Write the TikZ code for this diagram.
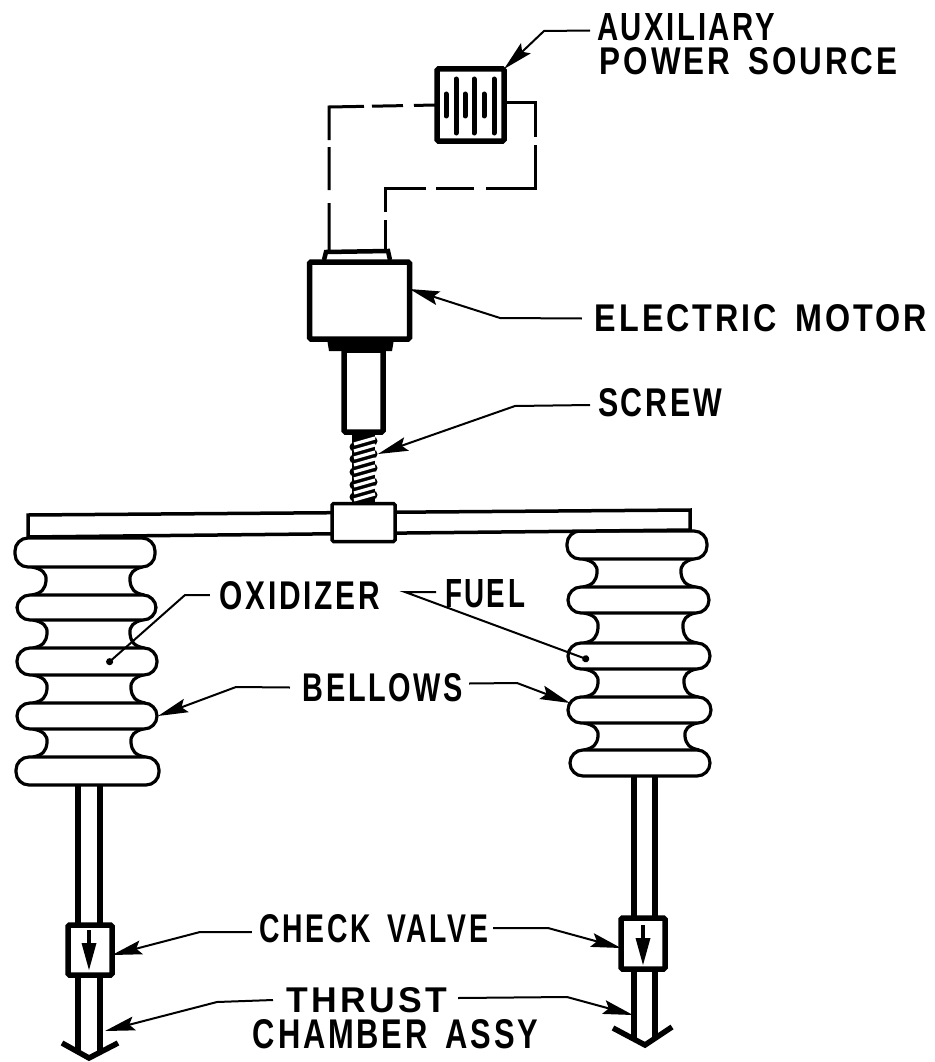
\documentclass[tikz,border=0pt]{standalone}
\usepackage{graphicx}
\usepackage{fontspec}
\setmainfont{Liberation Sans}[LetterSpace=9,WordSpace=1.6]
\usetikzlibrary{arrows.meta}
\tikzset{
  part/.style={draw=black,fill=white,line width=5.5pt,inner sep=0pt,outer sep=0pt,rounded corners=1.5pt},
  wire/.style={draw=black,line width=3pt},
  bl/.style={draw=black,line width=3.2pt},
  lbl/.style={inner sep=0pt,outer sep=0pt,font=\bfseries},
  lead/.style={draw=black,line width=2pt,-{Stealth[length=30pt,width=14pt,inset=5pt]}},
  leaddot/.style={draw=black,line width=2pt,-{Circle[length=7pt]}},
  pipe/.style={draw=black,line width=5.5pt},
  head/.style={draw=black,line width=5.5pt,line join=miter},
}
\newcommand{\bulb}[4]{\draw[bl,fill=white,rounded corners=13pt] (#1,#3) rectangle (#2,#4);}
\newcommand{\neck}[4]{% xl xr yb yt
  \pgfmathsetmacro{\ym}{(#3+#4)/2}
  \draw[bl,line cap=round] (#1+16,#3) .. controls (#1+26,#3+2) and (#1+31,#3+6) .. (#1+30,\ym) .. controls (#1+29,#4-6) and (#1+26,#4-2) .. (#1+16,#4);
  \draw[bl,line cap=round] (#2-14,#3) .. controls (#2-22,#3+2) and (#2-27,#3+6) .. (#2-26,\ym) .. controls (#2-25,#4-6) and (#2-22,#4-2) .. (#2-12,#4);
}
\newcommand{\vlvarrow}[3]{% x ytop ytip
  \draw[draw=black,line width=3.5pt] (#1,#2) -- (#1,#3-15);
  \fill[black] (#1-7.5,#3-27) -- (#1+7.5,#3-27) -- (#1,#3) -- cycle;
}
\begin{document}
\begin{tikzpicture}[x=1pt,y=-1pt]
\useasboundingbox (0,0) rectangle (934,1062);
% pipes
\draw[pipe] (78,783) -- (78,1053);
\draw[pipe] (100,783) -- (100,1053);
\draw[pipe] (634,776) -- (634,1040);
\draw[pipe] (655,776) -- (655,1040);
\draw[head] (62,1043) -- (89,1058) -- (118,1043);
\draw[head] (613,1028) -- (645,1045) -- (672,1027);
% valves
\node[part,minimum width=44pt,minimum height=50pt] (vl) at (90,950) {};
\node[part,minimum width=44pt,minimum height=51pt] (vr) at (643,943.5) {};
\vlvarrow{89}{930}{970}
\vlvarrow{643}{925}{965}
% left bellows
\neck{16}{156}{567}{595}
\neck{17}{156}{620}{648}
\neck{17}{157}{675}{703}
\neck{17}{157}{729}{757}
\bulb{15}{155}{538}{567}
\bulb{17}{156}{595}{620}
\bulb{17}{157}{648}{675}
\bulb{17}{157}{703}{729}
\bulb{16}{159}{757}{785}
% right bellows
\neck{567}{707}{559}{587}
\neck{568}{709}{613}{643}
\neck{568}{710}{669}{697}
\neck{568}{711}{723}{750}
\bulb{567}{707}{531}{559}
\bulb{568}{709}{587}{613}
\bulb{568}{710}{643}{669}
\bulb{568}{711}{697}{723}
\bulb{570}{710}{750}{776}
% cross bar
\draw[draw=black,line width=3.5pt,fill=white] (28,537) -- (28,515) -- (690,510) -- (690,530) -- cycle;
% screw
\fill[black] (352,434) rectangle (375,503);
\foreach \y in {447,459,472,485,497} \fill[black] (354,\y) circle (4.5pt);
\foreach \y in {441,454,468,482,495} \fill[black] (373,\y) circle (4.5pt);
\foreach \i in {0,...,8} \draw[white,line width=3.2pt] (354,444+\i*7) -- (375,438+\i*7);
% collar
\node[part,line width=3.5pt,minimum width=63pt,minimum height=38pt] (collar) at (363.5,522.5) {};
% shaft and motor
\node[part,minimum width=39pt,minimum height=82pt] (shaft) at (363.5,391) {};
\fill[black] (327,339) -- (329,351) -- (392,351) -- (394,339) -- cycle;
\draw[draw=black,line width=4.5pt,fill=white] (324,260) -- (326,252) -- (388,251) -- (390,260);
\node[part,minimum width=100pt,minimum height=77pt] (motor) at (359.5,300.5) {};
% battery
\node[part,minimum width=67pt,minimum height=72pt] (batt) at (470.5,105) {};
\foreach \x in {456,474,494} \draw[draw=black,line width=5pt,line cap=round] (\x,79) -- (\x,133);
\foreach \x in {446,465,484} \draw[draw=black,line width=5pt,line cap=round] (\x,94) -- (\x,116);
% wires
\coordinate (capL) at (329,250);
\coordinate (capR) at (385,250);
\draw[wire,dash pattern=on 47pt off 13pt on 43pt off 7pt on 68pt off 8pt on 31pt off 11pt on 40pt] (capL) -- (329,107) -- (batt.west);
\draw[wire,dash pattern=on 30pt off 8pt on 65pt off 10pt on 38pt off 12pt on 92pt off 8pt on 80pt] (capR) -- (385,188) -- (535,188) -- (535,103) -- (batt.east |- 0,103);
% labels
\node[lbl] (aux) at (686,27) {\resizebox{178pt}{27pt}{AUXILIARY}};
\node[lbl] (pow) at (748.5,61.5) {\resizebox{297pt}{27pt}{POWER SOURCE}};
\node[lbl] (emot) at (761,318.5) {\resizebox{332pt}{27pt}{ELECTRIC MOTOR}};
\node[lbl] (scr) at (660,402.5) {\resizebox{124pt}{28pt}{SCREW}};
\node[lbl] (oxi) at (300,596) {\resizebox{160pt}{28pt}{OXIDIZER}};
\node[lbl] (fuel) at (485,594) {\resizebox{80pt}{28pt}{FUEL}};
\node[lbl] (bel) at (383,687.5) {\resizebox{160pt}{28pt}{BELLOWS}};
\node[lbl] (chk) at (374,929) {\resizebox{228pt}{28pt}{CHECK VALVE}};
\node[lbl] (thr) at (367,1000) {\resizebox{160pt}{25pt}{THRUST}};
\node[lbl] (cha) at (395.5,1034.5) {\resizebox{285pt}{29pt}{CHAMBER ASSY}};
% leaders
\coordinate (bA) at (544,31);
\coordinate (bM) at (500,318);
\coordinate (bS) at (515,406);
\coordinate (screwpt) at (378,454);
\coordinate (bOx) at (185,595);
\coordinate (dOx) at (107,664);
\coordinate (bFu) at (405,592);
\coordinate (dFu) at (589,660);
\coordinate (bBl) at (236,687);
\coordinate (tBl) at (158,716);
\coordinate (bBr) at (517,683);
\coordinate (tBr) at (570,703);
\coordinate (bCl) at (200,932);
\coordinate (bCr) at (548,928);
\coordinate (bTl) at (217,1002);
\coordinate (tTl) at (105,1031);
\coordinate (bTr) at (567,997);
\coordinate (tTr) at (633,1015);
\path[lead] ([shift={(-7pt,-3.5pt)}]aux.west) -- (bA) -- (batt.north east);
\path[lead] ([shift={(-13pt,0pt)}]emot.west) -- (bM) -- ([yshift=11.5pt]motor.east);
\path[lead] ([shift={(-8pt,-2.5pt)}]scr.west) -- (bS) -- (screwpt);
\path[leaddot] ([shift={(-10pt,1pt)}]oxi.west) -- (bOx) -- (dOx);
\path[leaddot] ([shift={(-9pt,2pt)}]fuel.west) -- (bFu) -- (dFu);
\path[lead] ([shift={(-13pt,0pt)}]bel.west) -- (bBl) -- (tBl);
\path[lead] ([shift={(6pt,4pt)}]bel.east) -- (bBr) -- (tBr);
\path[lead] ([shift={(-8pt,-3pt)}]chk.west) -- (bCl) -- ([yshift=-5pt]vl.east);
\path[lead] ([shift={(5pt,1pt)}]chk.east) -- (bCr) -- ([yshift=-4.5pt]vr.west);
\path[lead] ([shift={(-14pt,0pt)}]thr.west) -- (bTl) -- (tTl);
\path[lead] ([shift={(11pt,2pt)}]thr.east) -- (bTr) -- (tTr);
\end{tikzpicture}
\end{document}
